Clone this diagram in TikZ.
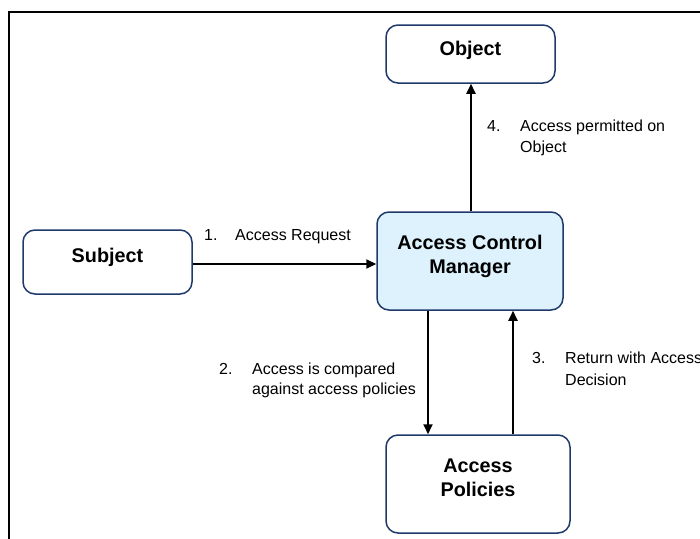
\documentclass[tikz,border=0pt]{standalone}
\usepackage{fontspec}
\setmainfont{Liberation Sans}
\usetikzlibrary{arrows.meta}
\definecolor{navy}{HTML}{1F3A6A}
\definecolor{acmfill}{HTML}{DDF2FC}
\begin{document}
\begin{tikzpicture}[x=1pt,y=-1pt,
  box/.style={draw=navy,line width=1.5pt,rounded corners=12pt,fill=white,inner sep=0pt},
  boxtext/.style={font=\fontsize{19.8}{24}\selectfont\bfseries,align=center,inner sep=0pt},
  lbl/.style={font=\fontsize{16}{20}\selectfont,anchor=base west,inner sep=0pt},
  arr/.style={line width=1.9pt,-{Triangle[length=10pt,width=9pt]}}]
\useasboundingbox (0,0) rectangle (700,538);
\clip (0,0) rectangle (700,538);
\fill[white] (0,0) rectangle (700,538);
\draw[line width=2pt] (9,540) -- (9,12) -- (702,12);
% boxes
\node[box,minimum width=169pt,minimum height=58pt] (obj) at (470.5,54) {};
\node[boxtext] (objt) at ([yshift=4pt]obj.center) {Object};
\node[box,minimum width=169pt,minimum height=64pt] (sub) at (107.5,262) {};
\node[boxtext] (subt) at ([yshift=5pt]sub.center) {Subject};
\node[box,fill=acmfill,minimum width=186pt,minimum height=98pt] (acm) at (470,261) {};
\node[boxtext] (acmt) at ([yshift=5pt]acm.center) {Access Control\\Manager};
\node[box,minimum width=184pt,minimum height=98pt] (pol) at (478,484) {};
\node[boxtext] (polt) at ([yshift=6pt]pol.center) {Access\\Policies};
% connectors
\draw[arr] ([yshift=-2pt]sub.east) -- ([yshift=-2pt]sub.east -| acm.west);
\draw[arr] ([xshift=1pt]acm.north) -- ([xshift=1pt]acm.north |- obj.south);
\draw[arr] ([xshift=-42pt]acm.south) -- ([xshift=-42pt]acm.south |- pol.north);
\draw[arr] ([xshift=43pt]acm.south |- pol.north) -- ([xshift=43pt]acm.south);
% labels
\node[lbl] (n1) at (204,240) {1.};
\node[lbl] (l1) at (235,240) {Access Request};
\node[lbl] (n4) at (487,131) {4.};
\node[lbl] (l4a) at (520,131) {Access permitted on};
\node[lbl] (l4b) at (520,152) {Object};
\node[lbl] (n2) at (219,374) {2.};
\node[lbl] (l2a) at (252,374) {Access is compared};
\node[lbl] (l2b) at (252,394) {against access policies};
\node[lbl] (n3) at (532,363) {3.};
\node[lbl] (l3a) at (565,363) {Return with Access};
\node[lbl] (l3b) at (565,385) {Decision};
\end{tikzpicture}
\end{document}
